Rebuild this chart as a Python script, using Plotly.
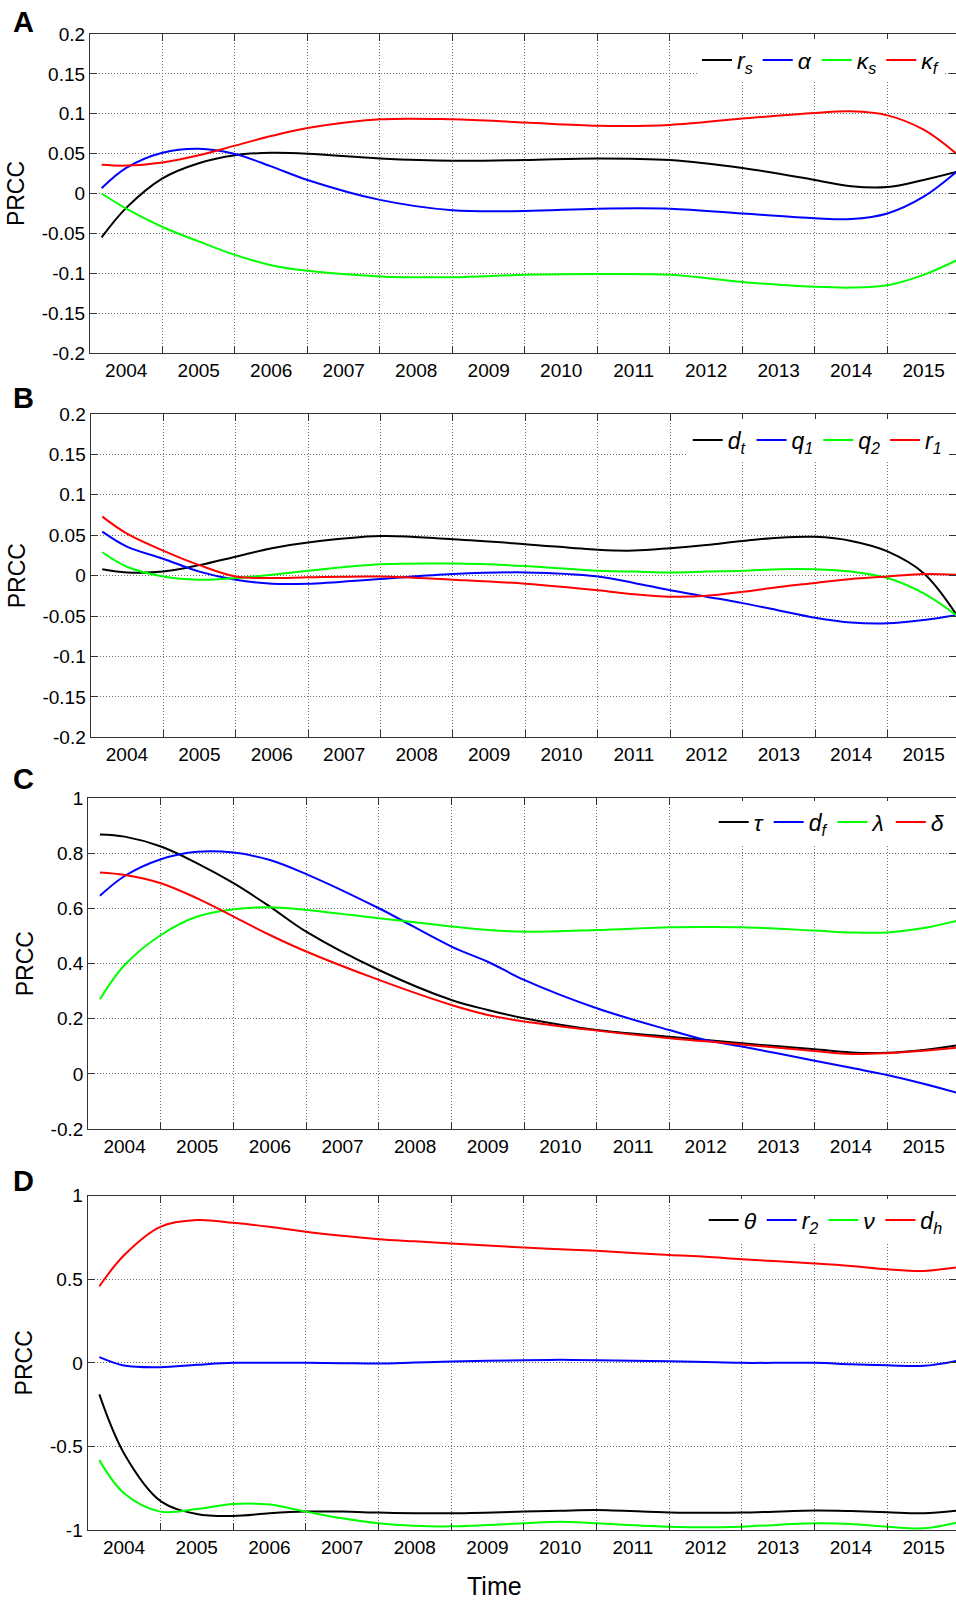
import plotly.graph_objects as go

W, H = 956, 1603
FONT = "Liberation Sans, Arial, sans-serif"

# ---------------- data (time in decimal years) ----------------
years = [2004, 2005, 2006, 2007, 2008, 2009, 2010, 2011, 2012, 2013, 2014, 2015]
year_labels = [str(y) for y in years]

# Panel A
t_A = [2004.16, 2004.5, 2005, 2005.5, 2006, 2006.5, 2007, 2008, 2009, 2010,
       2011, 2012, 2013, 2014, 2014.5, 2015, 2015.5, 2015.95]
A_rs = [-0.055, -0.018, 0.019, 0.038, 0.048, 0.051, 0.050, 0.044, 0.041, 0.042,
        0.044, 0.042, 0.032, 0.017, 0.009, 0.008, 0.017, 0.027]
A_alpha = [0.0065, 0.032, 0.051, 0.056, 0.0495, 0.034, 0.017, -0.008, -0.021, -0.022,
           -0.019, -0.019, -0.025, -0.031, -0.032, -0.025, -0.004, 0.027]
A_ks = [0.0, -0.019, -0.042, -0.060, -0.077, -0.090, -0.097, -0.104, -0.105, -0.102,
        -0.101, -0.102, -0.111, -0.117, -0.118, -0.115, -0.102, -0.084]
A_kf = [0.036, 0.035, 0.039, 0.048, 0.060, 0.072, 0.082, 0.093, 0.093, 0.089,
        0.085, 0.086, 0.094, 0.101, 0.103, 0.098, 0.080, 0.050]

# Panel B
t_B = [2004.16, 2004.5, 2005, 2005.5, 2006, 2006.5, 2007, 2008, 2009, 2010, 2011,
       2011.5, 2012, 2012.5, 2013, 2013.5, 2014, 2014.5, 2015, 2015.5, 2015.95]
B_dt = [0.008, 0.004, 0.005, 0.013, 0.0235, 0.034, 0.041, 0.049, 0.045, 0.039, 0.032,
        0.031, 0.034, 0.038, 0.043, 0.047, 0.048, 0.043, 0.030, 0.003, -0.048]
B_q1 = [0.0545, 0.036, 0.021, 0.005, -0.005, -0.010, -0.010, -0.004, 0.002, 0.004, -0.001,
        -0.009, -0.018, -0.026, -0.034, -0.043, -0.052, -0.058, -0.059, -0.055, -0.049]
B_q2 = [0.029, 0.011, -0.001, -0.005, -0.003, 0.001, 0.006, 0.014, 0.015, 0.012, 0.006,
        0.005, 0.004, 0.005, 0.006, 0.008, 0.008, 0.005, -0.003, -0.022, -0.049]
B_r1 = [0.073, 0.052, 0.031, 0.013, -0.001, -0.003, -0.002, -0.001, -0.005, -0.010, -0.018,
        -0.023, -0.026, -0.025, -0.020, -0.014, -0.009, -0.004, -0.001, 0.002, 0.001]

# Panel C
t_C = [2004.16, 2004.5, 2005, 2005.5, 2006, 2006.5, 2007, 2008, 2009, 2009.5, 2010,
       2011, 2012, 2012.5, 2013, 2014, 2014.5, 2015, 2015.5, 2015.95]
C_tau = [0.869, 0.861, 0.825, 0.764, 0.692, 0.607, 0.516, 0.377, 0.268, 0.232, 0.202,
         0.159, 0.135, 0.123, 0.111, 0.089, 0.078, 0.077, 0.087, 0.103]
C_df = [0.646, 0.718, 0.779, 0.806, 0.803, 0.776, 0.725, 0.601, 0.462, 0.407, 0.341,
        0.238, 0.159, 0.123, 0.099, 0.048, 0.022, -0.004, -0.036, -0.068]
C_lambda = [0.271, 0.395, 0.504, 0.571, 0.597, 0.605, 0.595, 0.565, 0.535, 0.522, 0.516,
            0.522, 0.532, 0.533, 0.532, 0.520, 0.513, 0.513, 0.529, 0.555]
C_delta = [0.731, 0.722, 0.692, 0.637, 0.571, 0.504, 0.444, 0.341, 0.250, 0.214, 0.190,
           0.157, 0.129, 0.118, 0.107, 0.083, 0.072, 0.075, 0.084, 0.095]

# Panel D
t_D = [2004.16, 2004.5, 2005, 2005.5, 2006, 2006.5, 2007, 2007.5, 2008, 2008.5, 2009,
       2010, 2010.5, 2011, 2012, 2012.5, 2013, 2014, 2014.5, 2015, 2015.5, 2015.95]
D_theta = [-0.189, -0.542, -0.826, -0.904, -0.916, -0.900, -0.890, -0.890, -0.896, -0.900, -0.900,
           -0.890, -0.885, -0.880, -0.896, -0.897, -0.896, -0.884, -0.887, -0.894, -0.900, -0.884]
D_r2 = [0.034, -0.016, -0.026, -0.012, 0.0, 0.0, 0.0, -0.002, -0.004, 0.002, 0.008,
        0.016, 0.018, 0.016, 0.010, 0.005, 0.0, 0.0, -0.008, -0.014, -0.018, 0.012]
D_nu = [-0.582, -0.780, -0.890, -0.875, -0.845, -0.848, -0.890, -0.930, -0.960, -0.975, -0.978,
        -0.960, -0.950, -0.960, -0.980, -0.984, -0.980, -0.960, -0.964, -0.980, -0.990, -0.956]
D_dh = [0.458, 0.644, 0.814, 0.854, 0.838, 0.814, 0.784, 0.760, 0.740, 0.727, 0.714,
        0.690, 0.680, 0.670, 0.645, 0.635, 0.620, 0.595, 0.580, 0.560, 0.550, 0.570]

panels = [
    dict(letter="A", t=t_A, series=[A_rs, A_alpha, A_ks, A_kf],
         names=["<i>r<sub>s</sub></i>", "<i>α</i>", "<i>κ<sub>s</sub></i>", "<i>κ<sub>f</sub></i>"],
         yticks=[-0.2, -0.15, -0.1, -0.05, 0, 0.05, 0.1, 0.15, 0.2],
         ytext=["-0.2", "-0.15", "-0.1", "-0.05", "0", "0.05", "0.1", "0.15", "0.2"],
         yrange=[-0.2, 0.2]),
    dict(letter="B", t=t_B, series=[B_dt, B_q1, B_q2, B_r1],
         names=["<i>d<sub>t</sub></i>", "<i>q<sub>1</sub></i>", "<i>q<sub>2</sub></i>", "<i>r<sub>1</sub></i>"],
         yticks=[-0.2, -0.15, -0.1, -0.05, 0, 0.05, 0.1, 0.15, 0.2],
         ytext=["-0.2", "-0.15", "-0.1", "-0.05", "0", "0.05", "0.1", "0.15", "0.2"],
         yrange=[-0.2, 0.2]),
    dict(letter="C", t=t_C, series=[C_tau, C_df, C_lambda, C_delta],
         names=["<i>τ</i>", "<i>d<sub>f</sub></i>", "<i>λ</i>", "<i>δ</i>"],
         yticks=[-0.2, 0, 0.2, 0.4, 0.6, 0.8, 1],
         ytext=["-0.2", "0", "0.2", "0.4", "0.6", "0.8", "1"],
         yrange=[-0.2, 1]),
    dict(letter="D", t=t_D, series=[D_theta, D_r2, D_nu, D_dh],
         names=["<i>θ</i>", "<i>r<sub>2</sub></i>", "<i>ν</i>", "<i>d<sub>h</sub></i>"],
         yticks=[-1, -0.5, 0, 0.5, 1],
         ytext=["-1", "-0.5", "0", "0.5", "1"],
         yrange=[-1, 1]),
]
colors = ["#000000", "#0000FF", "#00FF00", "#FF0000"]

# ---------------- layout geometry (pixels) ----------------
boxes = [(90, 34, 353), (90.7, 414, 737.3), (88.3, 798.3, 1129), (87.7, 1195.7, 1530)]
legend_pos = [(700, 60), (690.7, 440), (716.7, 822), (706.7, 1220)]
letter_pos = [(23, 22), (23, 398), (23, 779), (23, 1181)]

GRID = dict(showgrid=True, gridcolor="#707070", griddash="1px,2px", gridwidth=1)

fig = go.Figure()
layout = dict(width=W, height=H, margin=dict(l=0, r=0, t=0, b=0, autoexpand=False),
              paper_bgcolor="white", plot_bgcolor="white",
              font=dict(family=FONT, color="black"), annotations=[])

for i, p in enumerate(panels):
    k = "" if i == 0 else str(i + 1)
    left, top, bottom = boxes[i]
    lg = "legend" + k
    for s, (vals, name) in enumerate(zip(p["series"], p["names"])):
        fig.add_trace(go.Scatter(
            x=p["t"], y=vals, name=name, mode="lines",
            line=dict(color=colors[s], width=2, shape="spline", smoothing=1.0),
            xaxis="x" + k, yaxis="y" + k, legend=lg, showlegend=True))
    layout["xaxis" + k] = dict(
        domain=[left / W, 1.0], anchor="y" + k, range=[2004, 2015.946],
        tickmode="array", tickvals=[y + 0.5 for y in years], ticktext=year_labels,
        ticks="", showgrid=False, zeroline=False, automargin=False,
        minor=dict(tickmode="array", tickvals=years[1:], ticks="inside", ticklen=7,
                   tickcolor="#333", tickwidth=1.2, **GRID),
        showline=True, linecolor="#333", linewidth=1.3, mirror="ticks",
        tickfont=dict(family=FONT, size=19, color="black"))
    layout["yaxis" + k] = dict(
        domain=[1 - bottom / H, 1 - top / H], anchor="x" + k, range=p["yrange"],
        tickmode="array", tickvals=p["yticks"], ticktext=p["ytext"],
        ticks="inside", ticklen=7, tickcolor="#333", tickwidth=1.2,
        zeroline=False, automargin=False, **GRID,
        showline=True, linecolor="#333", linewidth=1.3, mirror="ticks",
        tickfont=dict(family=FONT, size=19, color="black"),
        title=dict(text="PRCC", font=dict(family=FONT, size=23, color="black"), standoff=10))
    lx, ly = legend_pos[i]
    layout[lg] = dict(orientation="h", x=(lx - 3) / W, y=1 - ly / H,
                      xanchor="left", yanchor="middle", bgcolor="white",
                      borderwidth=0, font=dict(family=FONT, size=23, color="black"))
    lpx, lpy = letter_pos[i]
    layout["annotations"].append(dict(
        text="<b>%s</b>" % p["letter"], x=lpx / W, y=1 - lpy / H, xref="paper", yref="paper",
        showarrow=False, xanchor="center", yanchor="middle",
        font=dict(family=FONT, size=29, color="black")))

layout["annotations"].append(dict(
    text="Time", x=494.5 / W, y=1 - 1586 / H, xref="paper", yref="paper",
    showarrow=False, xanchor="center", yanchor="middle",
    font=dict(family=FONT, size=25, color="black")))

fig.update_layout(**layout)
fig.write_html("out.html", config={"displayModeBar": False},
               post_script="document.body.style.margin='0';document.body.style.overflow='hidden';")
